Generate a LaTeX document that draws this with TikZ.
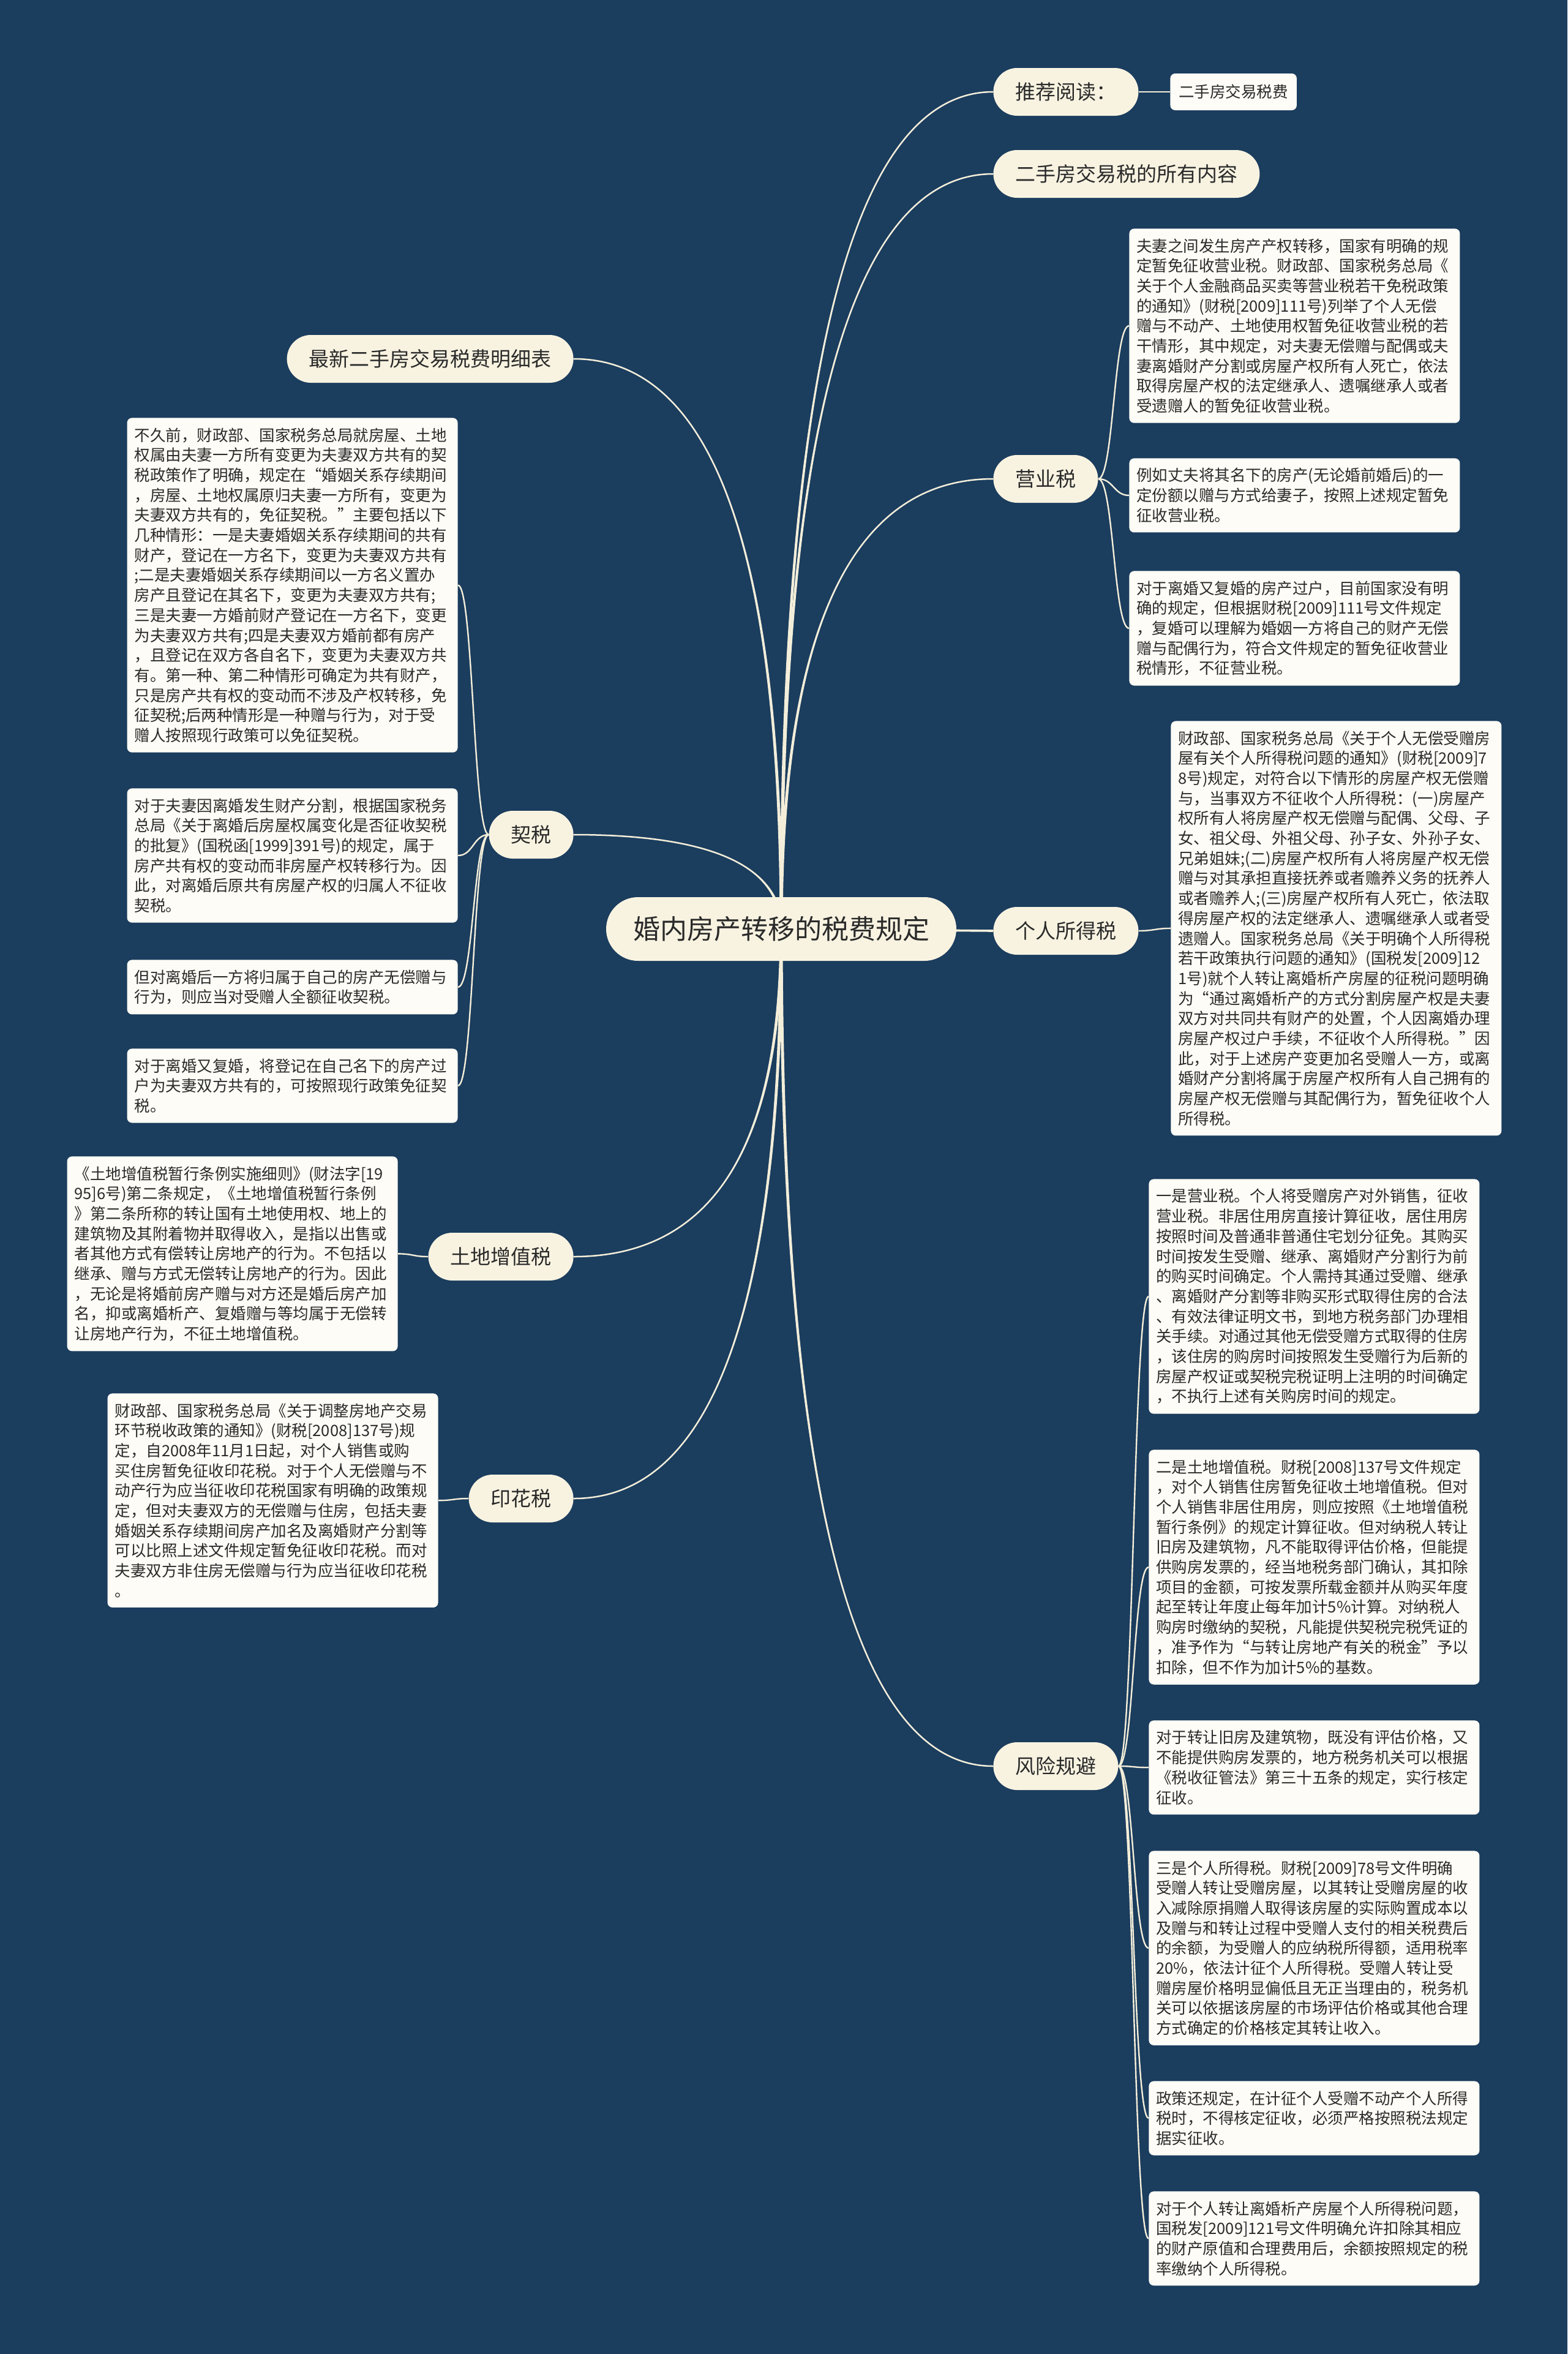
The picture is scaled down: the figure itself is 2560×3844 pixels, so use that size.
\documentclass[tikz,border=0pt]{standalone}
\usepackage{fontspec}
\setmainfont{Noto Sans CJK SC}
\usetikzlibrary{calc}
\pgfdeclarelayer{back}
\pgfdeclarelayer{links}
\pgfsetlayers{back,links,main}
\definecolor{bg}{HTML}{1B3D5E}
\definecolor{pill}{HTML}{F8F3E1}
\definecolor{boxfill}{HTML}{FDFCF6}
\definecolor{txt}{HTML}{2A2A2A}
\definecolor{linkc}{HTML}{F3EEDA}
\tikzset{
  root/.style={fill=pill, rounded corners=26pt, minimum height=52pt, inner xsep=22pt, inner ysep=0pt, text=txt, font=\fontsize{22pt}{26pt}\selectfont},
  lvl/.style={fill=pill, rounded corners=19.5pt, minimum height=39pt, inner xsep=18pt, inner ysep=0pt, text=txt, font=\fontsize{16.5pt}{20pt}\selectfont},
  leaf/.style={fill=boxfill, rounded corners=4pt, minimum height=30pt, inner xsep=7pt, inner ysep=0pt, text=txt, font=\fontsize{12.75pt}{16.35pt}\selectfont},
  detail/.style={fill=boxfill, rounded corners=4pt, text width=258pt, align=left, inner xsep=6pt, inner ysep=8pt, text=txt, font=\fontsize{12.75pt}{16.35pt}\selectfont},
  link/.style={draw=linkc, line width=1.2pt},
  rlinkst/.style={draw=linkc, line width=1.25pt}
}
\newcommand\rootlink[2]{%
  \fill[linkc] ($(#1)+(-2.5,0)$) .. controls ($(#1)!0.6667!(#1|-#2)+(-2.5,0)$) and ($(#2)!0.6667!(#1|-#2)$) .. (#2)
     .. controls ($(#2)!0.6667!(#1|-#2)$) and ($(#1)!0.6667!(#1|-#2)+(2.5,0)$) .. ($(#1)+(2.5,0)$) -- cycle;
  \draw[rlinkst] (#1) .. controls ($(#1)!0.6667!(#1|-#2)$) and ($(#2)!0.6667!(#1|-#2)$) .. (#2);}
\newcommand\rlink[2]{\draw[link] (#1) .. controls +(25,0) and +(-25,0) .. (#2);}
\newcommand\llink[2]{\draw[link] (#1) .. controls +(-25,0) and +(25,0) .. (#2);}
\begin{document}
\begin{tikzpicture}[x=0.5pt,y=-0.5pt]
\begin{pgfonlayer}{back}
\fill[bg] (0,0) rectangle (2560,3844);
\end{pgfonlayer}
\useasboundingbox (0,0) rectangle (2560,3844);

% root
\node[root] (m) at (1276,1517) {婚内房产转移的税费规定};

% right level 1
\node[lvl, anchor=west] (r1) at (1622,150) {推荐阅读：};
\node[leaf, anchor=west] (r1a) at (1911,150) {二手房交易税费};
\node[lvl, anchor=west] (r2) at (1622,284) {二手房交易税的所有内容};
\node[lvl, anchor=west] (r3) at (1622,782) {营业税};
\node[lvl, anchor=west] (r4) at (1622,1520) {个人所得税};
\node[lvl, anchor=west] (r5) at (1622,2884) {风险规避};

% left level 1
\node[lvl, anchor=east] (l1) at (937,586) {最新二手房交易税费明细表};
\node[lvl, anchor=east] (l2) at (937,1363) {契税};
\node[lvl, anchor=east] (l3) at (937,2052) {土地增值税};
\node[lvl, anchor=east] (l4) at (937,2447) {印花税};

% 营业税 details
\node[detail, anchor=north west] (y1) at (1844,373) {夫妻之间发生房产产权转移，国家有明确的规\\
定暂免征收营业税。财政部、国家税务总局《\\
关于个人金融商品买卖等营业税若干免税政策\\
的通知》(财税[2009]111号)列举了个人无偿\\
赠与不动产、土地使用权暂免征收营业税的若\\
干情形，其中规定，对夫妻无偿赠与配偶或夫\\
妻离婚财产分割或房屋产权所有人死亡，依法\\
取得房屋产权的法定继承人、遗嘱继承人或者\\
受遗赠人的暂免征收营业税。};
\node[detail, anchor=north west] (y2) at (1844,748) {例如丈夫将其名下的房产(无论婚前婚后)的一\\
定份额以赠与方式给妻子，按照上述规定暂免\\
征收营业税。};
\node[detail, anchor=north west] (y3) at (1844,932) {对于离婚又复婚的房产过户，目前国家没有明\\
确的规定，但根据财税[2009]111号文件规定\\
，复婚可以理解为婚姻一方将自己的财产无偿\\
赠与配偶行为，符合文件规定的暂免征收营业\\
税情形，不征营业税。};

% 个人所得税 detail
\node[detail, anchor=north west] (g1) at (1912,1177) {财政部、国家税务总局《关于个人无偿受赠房\\
屋有关个人所得税问题的通知》(财税[2009]7\\
8号)规定，对符合以下情形的房屋产权无偿赠\\
与，当事双方不征收个人所得税：(一)房屋产\\
权所有人将房屋产权无偿赠与配偶、父母、子\\
女、祖父母、外祖父母、孙子女、外孙子女、\\
兄弟姐妹;(二)房屋产权所有人将房屋产权无偿\\
赠与对其承担直接抚养或者赡养义务的抚养人\\
或者赡养人;(三)房屋产权所有人死亡，依法取\\
得房屋产权的法定继承人、遗嘱继承人或者受\\
遗赠人。国家税务总局《关于明确个人所得税\\
若干政策执行问题的通知》(国税发[2009]12\\
1号)就个人转让离婚析产房屋的征税问题明确\\
为“通过离婚析产的方式分割房屋产权是夫妻\\
双方对共同共有财产的处置，个人因离婚办理\\
房屋产权过户手续，不征收个人所得税。”因\\
此，对于上述房产变更加名受赠人一方，或离\\
婚财产分割将属于房屋产权所有人自己拥有的\\
房屋产权无偿赠与其配偶行为，暂免征收个人\\
所得税。};

% 风险规避 details
\node[detail, anchor=north west] (f1) at (1876,1925) {一是营业税。个人将受赠房产对外销售，征收\\
营业税。非居住用房直接计算征收，居住用房\\
按照时间及普通非普通住宅划分征免。其购买\\
时间按发生受赠、继承、离婚财产分割行为前\\
的购买时间确定。个人需持其通过受赠、继承\\
、离婚财产分割等非购买形式取得住房的合法\\
、有效法律证明文书，到地方税务部门办理相\\
关手续。对通过其他无偿受赠方式取得的住房\\
，该住房的购房时间按照发生受赠行为后新的\\
房屋产权证或契税完税证明上注明的时间确定\\
，不执行上述有关购房时间的规定。};
\node[detail, anchor=north west] (f2) at (1876,2367) {二是土地增值税。财税[2008]137号文件规定\\
，对个人销售住房暂免征收土地增值税。但对\\
个人销售非居住用房，则应按照《土地增值税\\
暂行条例》的规定计算征收。但对纳税人转让\\
旧房及建筑物，凡不能取得评估价格，但能提\\
供购房发票的，经当地税务部门确认，其扣除\\
项目的金额，可按发票所载金额并从购买年度\\
起至转让年度止每年加计5\%计算。对纳税人\\
购房时缴纳的契税，凡能提供契税完税凭证的\\
，准予作为“与转让房地产有关的税金”予以\\
扣除，但不作为加计5\%的基数。};
\node[detail, anchor=north west] (f3) at (1876,2809) {对于转让旧房及建筑物，既没有评估价格，又\\
不能提供购房发票的，地方税务机关可以根据\\
《税收征管法》第三十五条的规定，实行核定\\
征收。};
\node[detail, anchor=north west] (f4) at (1876,3022) {三是个人所得税。财税[2009]78号文件明确\\
受赠人转让受赠房屋，以其转让受赠房屋的收\\
入减除原捐赠人取得该房屋的实际购置成本以\\
及赠与和转让过程中受赠人支付的相关税费后\\
的余额，为受赠人的应纳税所得额，适用税率\\
20\%，依法计征个人所得税。受赠人转让受\\
赠房屋价格明显偏低且无正当理由的，税务机\\
关可以依据该房屋的市场评估价格或其他合理\\
方式确定的价格核定其转让收入。};
\node[detail, anchor=north west] (f5) at (1876,3398) {政策还规定，在计征个人受赠不动产个人所得\\
税时，不得核定征收，必须严格按照税法规定\\
据实征收。};
\node[detail, anchor=north west] (f6) at (1876,3578) {对于个人转让离婚析产房屋个人所得税问题，\\
国税发[2009]121号文件明确允许扣除其相应\\
的财产原值和合理费用后，余额按照规定的税\\
率缴纳个人所得税。};

% 契税 details
\node[detail, anchor=north east] (q1) at (748,682) {不久前，财政部、国家税务总局就房屋、土地\\
权属由夫妻一方所有变更为夫妻双方共有的契\\
税政策作了明确，规定在“婚姻关系存续期间\\
，房屋、土地权属原归夫妻一方所有，变更为\\
夫妻双方共有的，免征契税。”主要包括以下\\
几种情形：一是夫妻婚姻关系存续期间的共有\\
财产，登记在一方名下，变更为夫妻双方共有\\
;二是夫妻婚姻关系存续期间以一方名义置办\\
房产且登记在其名下，变更为夫妻双方共有;\\
三是夫妻一方婚前财产登记在一方名下，变更\\
为夫妻双方共有;四是夫妻双方婚前都有房产\\
，且登记在双方各自名下，变更为夫妻双方共\\
有。第一种、第二种情形可确定为共有财产，\\
只是房产共有权的变动而不涉及产权转移，免\\
征契税;后两种情形是一种赠与行为，对于受\\
赠人按照现行政策可以免征契税。};
\node[detail, anchor=north east] (q2) at (748,1287) {对于夫妻因离婚发生财产分割，根据国家税务\\
总局《关于离婚后房屋权属变化是否征收契税\\
的批复》(国税函[1999]391号)的规定，属于\\
房产共有权的变动而非房屋产权转移行为。因\\
此，对离婚后原共有房屋产权的归属人不征收\\
契税。};
\node[detail, anchor=north east] (q3) at (748,1567) {但对离婚后一方将归属于自己的房产无偿赠与\\
行为，则应当对受赠人全额征收契税。};
\node[detail, anchor=north east] (q4) at (748,1712) {对于离婚又复婚，将登记在自己名下的房产过\\
户为夫妻双方共有的，可按照现行政策免征契\\
税。};

% 土地增值税 detail
\node[detail, anchor=north east] (t1) at (650,1888) {《土地增值税暂行条例实施细则》(财法字[19\\
95]6号)第二条规定，《土地增值税暂行条例\\
》第二条所称的转让国有土地使用权、地上的\\
建筑物及其附着物并取得收入，是指以出售或\\
者其他方式有偿转让房地产的行为。不包括以\\
继承、赠与方式无偿转让房地产的行为。因此\\
，无论是将婚前房产赠与对方还是婚后房产加\\
名，抑或离婚析产、复婚赠与等均属于无偿转\\
让房地产行为，不征土地增值税。};

% 印花税 detail
\node[detail, anchor=north east] (s1) at (716,2275) {财政部、国家税务总局《关于调整房地产交易\\
环节税收政策的通知》(财税[2008]137号)规\\
定，自2008年11月1日起，对个人销售或购\\
买住房暂免征收印花税。对于个人无偿赠与不\\
动产行为应当征收印花税国家有明确的政策规\\
定，但对夫妻双方的无偿赠与住房，包括夫妻\\
婚姻关系存续期间房产加名及离婚财产分割等\\
可以比照上述文件规定暂免征收印花税。而对\\
夫妻双方非住房无偿赠与行为应当征收印花税\\
。};

\begin{pgfonlayer}{links}
\rootlink{m.center}{r1.west}
\rootlink{m.center}{r2.west}
\rootlink{m.center}{r3.west}
\draw[linkc, line width=1.8pt] (m.center) -- (r4.west);
\rootlink{m.center}{r5.west}
\rootlink{m.center}{l1.east}
\rootlink{m.center}{l2.east}
\rootlink{m.center}{l3.east}
\rootlink{m.center}{l4.east}
\draw[link] (r1.east) -- (r1a.west);
\rlink{r3.east}{y1.west}
\rlink{r3.east}{y2.west}
\rlink{r3.east}{y3.west}
\rlink{r4.east}{g1.west}
\rlink{r5.east}{f1.west}
\rlink{r5.east}{f2.west}
\rlink{r5.east}{f3.west}
\rlink{r5.east}{f4.west}
\rlink{r5.east}{f5.west}
\rlink{r5.east}{f6.west}
\llink{l2.west}{q1.east}
\llink{l2.west}{q2.east}
\llink{l2.west}{q3.east}
\llink{l2.west}{q4.east}
\llink{l3.west}{t1.east}
\llink{l4.west}{s1.east}
\end{pgfonlayer}
\end{tikzpicture}
\end{document}
